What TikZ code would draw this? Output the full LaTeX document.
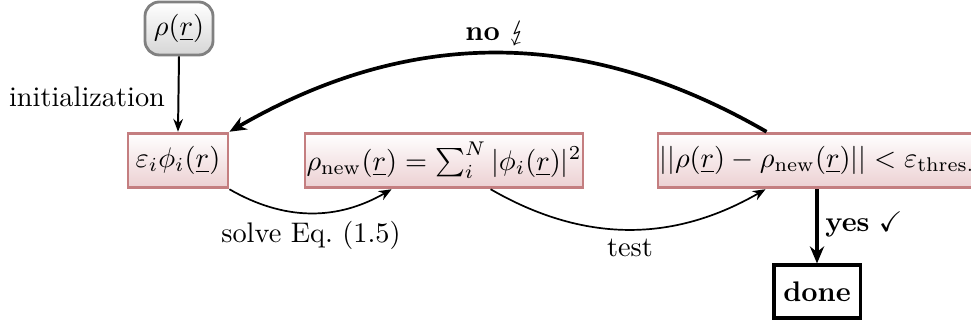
\documentclass[tikz,border=0pt]{standalone}
\usepackage{amssymb}
\usepackage{stmaryrd}
\usetikzlibrary{arrows.meta,calc}
\definecolor{boxborder}{RGB}{196,126,128}
\definecolor{boxfill}{RGB}{236,208,210}
\definecolor{grayborder}{RGB}{128,128,128}
\definecolor{grayfill}{RGB}{214,214,214}
\begin{document}
\begin{tikzpicture}[x=0.353pt,y=-0.353pt,
  pinkbox/.style={draw=boxborder, line width=1pt, top color=white, bottom color=boxfill, inner sep=0pt, minimum height=19.3pt},
  startbox/.style={draw=grayborder, line width=1pt, rounded corners=5pt, top color=white, bottom color=grayfill, inner sep=0pt, minimum width=24pt, minimum height=18.7pt},
  endbox/.style={draw=black, line width=1.1pt, fill=white, inner sep=0pt, minimum width=30.4pt, minimum height=18.7pt, font=\bfseries},
  lbl/.style={inner sep=0pt},
  thinarrow/.style={semithick, -{Stealth[length=4.5pt,width=3.6pt]}},
  thickarrow/.style={line width=1.3pt, -{Stealth[length=6pt,width=5pt]}},
  initarrow/.style={line width=0.7pt, -{Stealth[length=4.5pt,width=3.4pt]}}
]
\useasboundingbox (0,0) rectangle (971,324);

\node[startbox] (rho) at (179,28.5) {$\rho(\underline{r})$};
\node[pinkbox, minimum width=35.3pt] (eps) at (178,160.5) {$\varepsilon_i\phi_i(\underline{r})$};
\node[pinkbox, minimum width=98.1pt] (rhonew) at (444,160.5) {$\rho_{\mathrm{new}}(\underline{r}) = \sum_i^N |\phi_i(\underline{r})|^2$};
\node[pinkbox, minimum width=112.3pt] (test) at (817,160.5) {$||\rho(\underline{r}) - \rho_{\mathrm{new}}(\underline{r})|| < \varepsilon_{\mathrm{thres.}}$};
\node[endbox] (done) at (817,291.5) {done};

\node[lbl] (linit) at (87,97) {initialization};
\node[lbl] (lno) at (496,33) {\textbf{no} $\lightning$};
\node[lbl] (lyes) at (864,225) {\textbf{yes} $\checkmark$};
\node[lbl] (lsolve) at (311,235) {solve Eq.~(1.5)};
\node[lbl] (ltest) at (630,248) {test};

\coordinate (solveend) at ($(rhonew.south west)+(88,0)$);
\coordinate (teststart) at ($(rhonew.south west)+(187,0)$);
\coordinate (testend) at ($(test.south west)+(109,0)$);
\coordinate (nostart) at ($(test.north west)+(110,0)$);

\draw[initarrow] (rho.south) -- (eps.north);
\draw[thinarrow] (eps.south east) to[bend right=30] (solveend);
\draw[thinarrow] (teststart) to[bend right=30] (testend);
\draw[thickarrow] (nostart) to[bend right=30] (eps.north east);
\draw[thickarrow] (test.south) -- (done.north);
\end{tikzpicture}
\end{document}
